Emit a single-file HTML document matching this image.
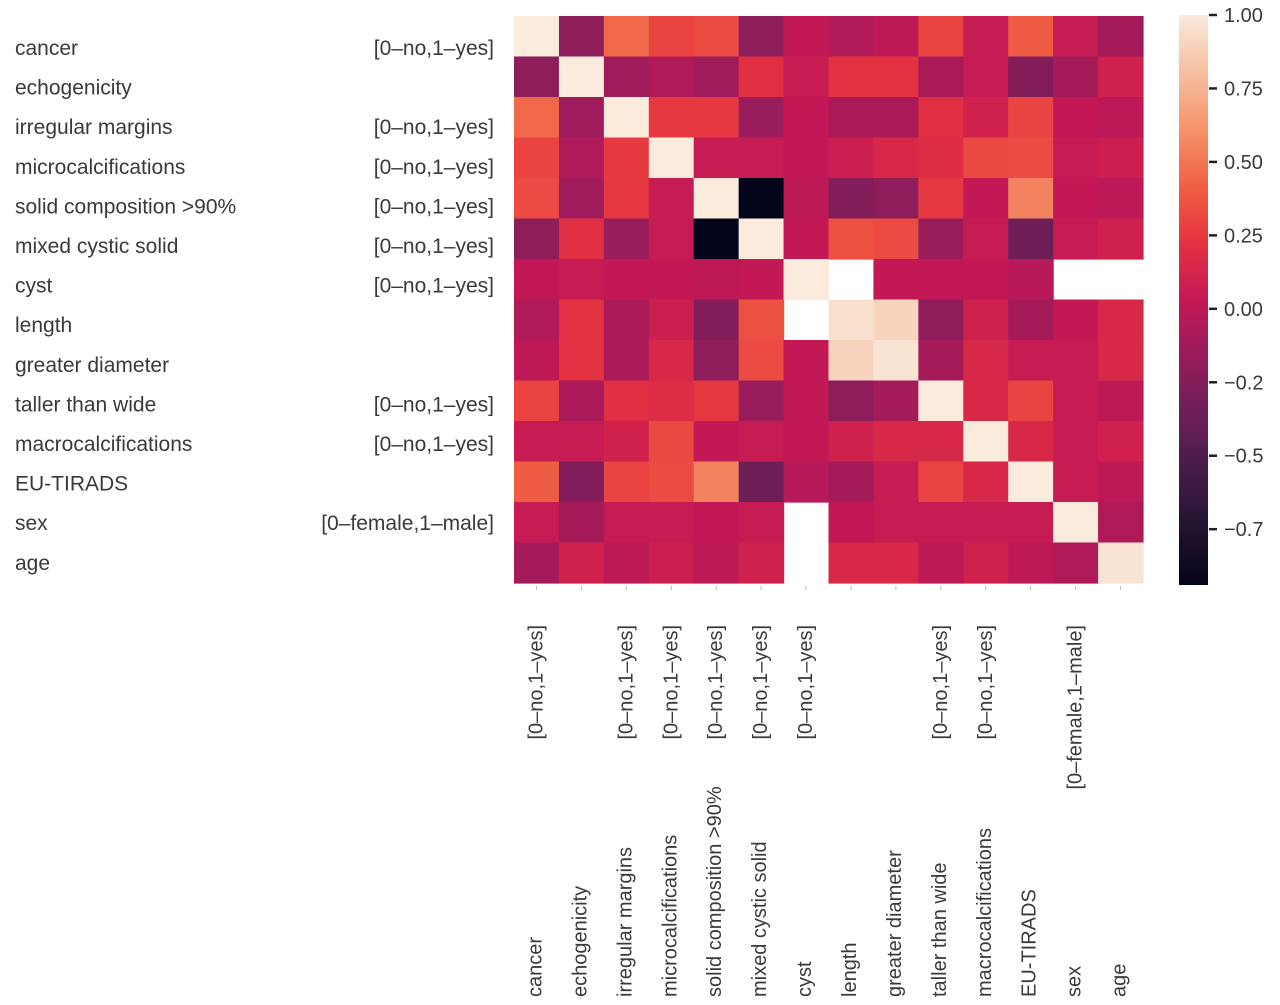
<!DOCTYPE html>
<html><head><meta charset="utf-8"><style>
html,body{margin:0;padding:0;background:#fff;width:1280px;height:1005px;overflow:hidden}
svg text{font-family:"Liberation Sans",sans-serif;fill:#3a3a3a}
</style></head><body>
<svg id="chart" width="1280" height="1005" xmlns="http://www.w3.org/2000/svg">
<defs><linearGradient id="cbar" x1="0" y1="1" x2="0" y2="0"></linearGradient></defs>
<g id="cells"></g><g id="ylabels"></g><g id="xlabels"></g><g id="colorbar"></g>
</svg>
<script>
const variables=["cancer","echogenicity","irregular margins","microcalcifications","solid composition >90%","mixed cystic solid","cyst","length","greater diameter","taller than wide","macrocalcifications","EU-TIRADS","sex","age"];
const units=["[0–no,1–yes]","","[0–no,1–yes]","[0–no,1–yes]","[0–no,1–yes]","[0–no,1–yes]","[0–no,1–yes]","","","[0–no,1–yes]","[0–no,1–yes]","","[0–female,1–male]",""];
const N=null;
const row0=[1,-0.2,0.45,0.3,0.33,-0.2,0.02,-0.05,0.0,0.3,0.05,0.4,0.05,-0.1];
const row1=[-0.2,1,-0.12,-0.05,-0.12,0.2,0.05,0.22,0.22,-0.08,0.05,-0.25,-0.1,0.1];
const row2=[0.45,-0.12,1,0.25,0.25,-0.15,0.03,-0.08,-0.08,0.2,0.1,0.3,0.03,0.0];
const row3=[0.3,-0.05,0.25,1,0.05,0.05,0.03,0.08,0.15,0.18,0.32,0.33,0.05,0.08];
const row4=[0.33,-0.12,0.25,0.05,1,-0.94,0.0,-0.25,-0.2,0.25,0.02,0.55,0.03,0.0];
const row5=[-0.2,0.2,-0.15,0.05,-0.94,1,0.02,0.35,0.33,-0.15,0.05,-0.35,0.05,0.1];
const row6=[0.02,0.05,0.03,0.03,0.0,0.02,1,N,0.02,0.02,0.02,-0.02,N,N];
const row7=[-0.05,0.22,-0.08,0.08,-0.25,0.35,N,0.95,0.9,-0.2,0.1,-0.1,0.03,0.15];
const row8=[0.0,0.22,-0.08,0.15,-0.2,0.33,0.02,0.9,0.97,-0.1,0.15,0.05,0.05,0.15];
const row9=[0.3,-0.08,0.2,0.18,0.25,-0.15,0.02,-0.2,-0.1,1,0.15,0.3,0.05,0.0];
const row10=[0.05,0.05,0.1,0.32,0.02,0.05,0.02,0.1,0.15,0.15,1,0.15,0.05,0.1];
const row11=[0.4,-0.25,0.3,0.33,0.55,-0.35,-0.02,-0.1,0.05,0.3,0.15,1,0.05,0.0];
const row12=[0.05,-0.1,0.05,0.05,0.03,0.05,N,0.03,0.05,0.05,0.05,0.05,1,-0.05];
const row13=[-0.1,0.1,0.0,0.08,0.0,0.1,N,0.15,0.15,0.0,0.1,0.0,-0.05,0.97];
const matrix=[row0,row1,row2,row3,row4,row5,row6,row7,row8,row9,row10,row11,row12,row13];
const tickValues=[1.0,0.75,0.5,0.25,0.0,-0.25,-0.5,-0.75];
const tickLabels=["1.00","0.75","0.50","0.25","0.00","−0.2","−0.5","−0.7"];
const vmin=-0.94,vmax=1.0;

const ns="http://www.w3.org/2000/svg";
const stops=[[3,5,26],[34,19,49],[69,28,71],[108,31,88],[150,28,92],[196,24,86],[228,50,64],[240,96,67],[245,147,106],[246,191,161],[250,235,221]];
function rocket(t){t=Math.max(0,Math.min(1,t));const p=t*10,i=Math.min(9,Math.floor(p)),f=p-i;const a=stops[i],b=stops[i+1];
return "rgb("+a.map((c,k)=>Math.round(c+(b[k]-c)*f)).join(",")+")";}
const X0=514,X1=1143,Y0=16,Y1=583,n=variables.length;
const cw=(X1-X0)/n,ch=(Y1-Y0)/n;
const xs=j=>X0+j*cw, ys=i=>Y0+i*ch;
const norm=v=>(v-vmin)/(vmax-vmin);
function mk(tag,attrs,parent){const e=document.createElementNS(ns,tag);for(const k in attrs)e.setAttribute(k,attrs[k]);parent.appendChild(e);return e;}
const cells=document.getElementById('cells');
matrix.forEach((r,i)=>r.forEach((v,j)=>{if(v===null)return;
const e=mk('rect',{x:xs(j),y:ys(i),width:cw+0.6,height:ch+0.6,fill:rocket(norm(v))},cells);

}));
const yl=document.getElementById('ylabels');
variables.forEach((nm,i)=>{const y=48+39.6*i+7;
const t=mk('text',{x:15,y:y,'font-size':21},yl);t.textContent=nm;


if(units[i]){const u=mk('text',{x:494,y:y,'font-size':21,'text-anchor':'end'},yl);u.textContent=units[i];

}});
const xl=document.getElementById('xlabels');
variables.forEach((nm,j)=>{const cx=xs(j)+cw/2;
mk('line',{x1:cx,x2:cx,y1:586,y2:590,stroke:'#bbb','stroke-width':1},xl);
const x=cx+5;
const t=mk('text',{x:0,y:0,'font-size':20,transform:'translate('+x+',997) rotate(-90)'},xl);t.textContent=nm;


if(units[j]){const u=mk('text',{x:0,y:0,'font-size':20,'text-anchor':'end',transform:'translate('+(cx+6)+',625) rotate(-90)'},xl);u.textContent=units[j];

}});
const g=document.getElementById('cbar');
for(let k=0;k<=20;k++){mk('stop',{offset:(k/20),'stop-color':rocket(k/20)},g);}
const cb=document.getElementById('colorbar');
const CB0=15,CB1=585;
const cy=v=>CB1-(v-vmin)/(vmax-vmin)*(CB1-CB0);
const bar=mk('rect',{x:1179,y:CB0,width:29,height:CB1-CB0,fill:'url(#cbar)'},cb);


tickValues.forEach((v,k)=>{const y=cy(v);
mk('line',{x1:1209,x2:1217,y1:y,y2:y,stroke:'#222','stroke-width':2.5},cb);
const t=mk('text',{x:1224,y:y+7,'font-size':20},cb);t.textContent=tickLabels[k];

});
</script>
</body></html>
